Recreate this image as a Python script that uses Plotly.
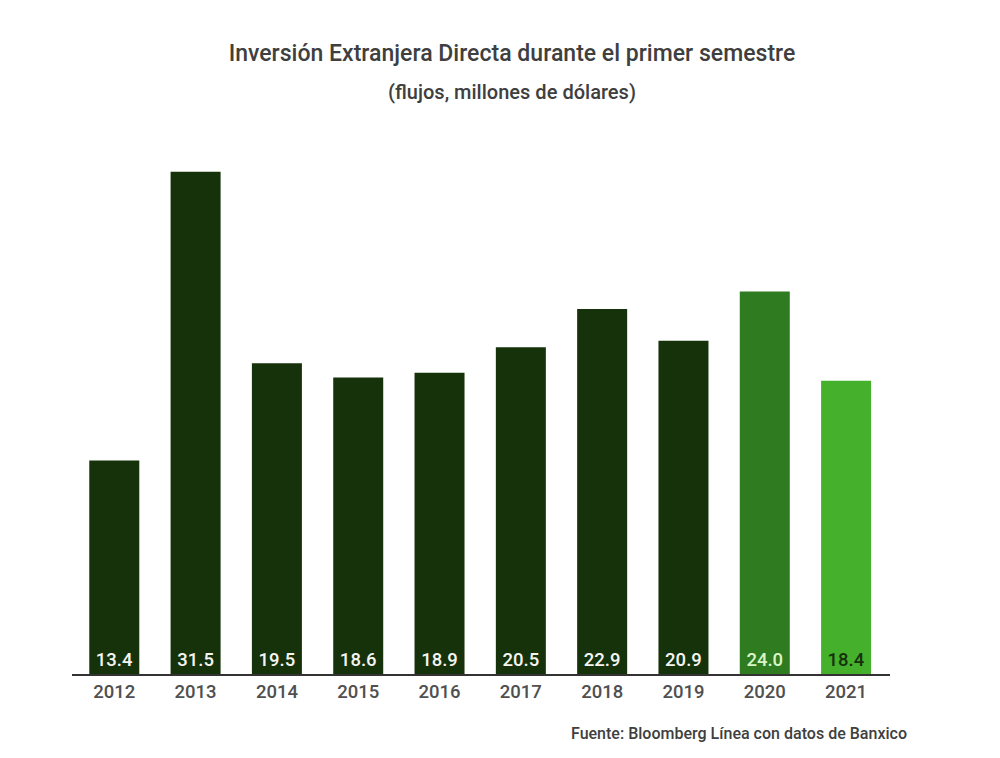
import plotly.graph_objects as go

# Inversión Extranjera Directa, primer semestre (millones de dólares)
years = ['2012', '2013', '2014', '2015', '2016', '2017', '2018', '2019', '2020', '2021']
flows = [13.4, 31.5, 19.5, 18.6, 18.9, 20.5, 22.9, 20.9, 24.0, 18.4]

FONT = 'Roboto Medium, Roboto'
DARK = '#15320b'
bar_colors = [DARK] * 8 + ['#2e7b20', '#45b02c']
label_colors = ['#f4f4f0'] * 8 + ['#d8f5c8', '#15320b']

fig = go.Figure()
fig.add_trace(go.Bar(
    x=years,
    y=flows,
    marker=dict(color=bar_colors, line=dict(width=0)),
    width=0.615,
    text=[f'{v:.1f}' for v in flows],
    textposition='inside',
    insidetextanchor='start',
    textangle=0,
    textfont=dict(family=FONT, size=18.5, color=label_colors),
    cliponaxis=False,
    hoverinfo='x+y',
))

fig.update_layout(
    width=1000,
    height=758,
    paper_bgcolor='white',
    plot_bgcolor='white',
    margin=dict(l=64, r=118, t=142, b=92),
    showlegend=False,
    font=dict(family=FONT, color='#555555'),
    title=dict(
        text='Inversión Extranjera Directa durante el primer semestre',
        x=0.504, xanchor='center', y=0.941, yanchor='middle',
        font=dict(family=FONT, size=23, color='#3f3f3f'),
    ),
    xaxis=dict(
        type='category',
        range=[-0.52, 9.54],
        showgrid=False,
        showline=True,
        linecolor='#333333',
        linewidth=2,
        ticks='',
        tickfont=dict(family=FONT, size=18.5, color='#505050'),
    ),
    yaxis=dict(
        range=[0, 32.87],
        visible=False,
        showgrid=False,
        zeroline=False,
    ),
    annotations=[
        dict(
            text='(flujos, millones de dólares)',
            xref='paper', yref='paper', x=0.538, y=1.0, xanchor='center', yanchor='middle',
            yshift=58, showarrow=False,
            font=dict(family=FONT, size=20, color='#3f3f3f'),
        ),
        dict(
            text='Fuente: Bloomberg Línea con datos de Banxico',
            xref='paper', yref='paper', x=1.0, y=0, xanchor='right', yanchor='middle',
            xshift=19, yshift=-59, showarrow=False,
            font=dict(family=FONT, size=16, color='#3f3f3f'),
        ),
    ],
)

fig.write_html('out.html')
